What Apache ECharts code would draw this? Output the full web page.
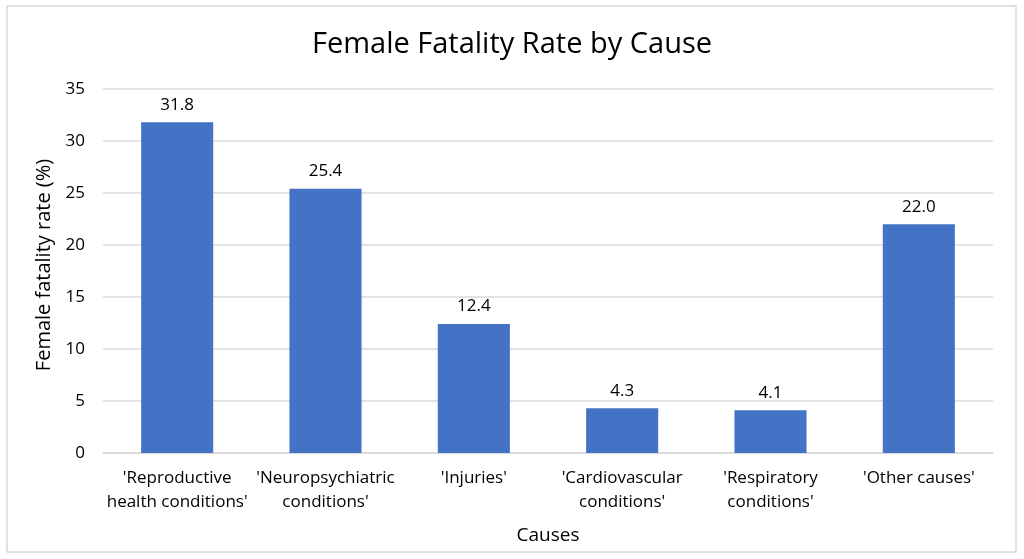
<!DOCTYPE html>
<html>
<head>
<meta charset="utf-8">
<script src="https://cdn.jsdelivr.net/npm/echarts@6/dist/echarts.min.js"></script>
<style>html,body{margin:0;padding:0;background:#fff;}#c{width:1024px;height:559px;}</style>
</head>
<body>
<div id="c"></div>
<script>
const categories = ["'Reproductive\nhealth conditions'", "'Neuropsychiatric\nconditions'", "'Injuries'", "'Cardiovascular\nconditions'", "'Respiratory\nconditions'", "'Other causes'"];
const values = [31.8, 25.4, 12.4, 4.3, 4.1, 22.0];
const yTicks = [0, 5, 10, 15, 20, 25, 30, 35];

const FONT = "Open Sans";
const chart = echarts.init(document.getElementById('c'));
chart.setOption({
  animation: false,
  textStyle: { fontFamily: FONT },
  graphic: [{
    type: 'rect',
    shape: { x: 7, y: 6, width: 1009, height: 546 },
    style: { fill: 'none', stroke: '#d9d9d9', lineWidth: 1.5 },
    silent: true
  }],
  title: {
    text: 'Female Fatality Rate by Cause',
    left: 'center',
    top: 25,
    textStyle: { fontFamily: FONT, fontSize: 29, fontWeight: 'normal', color: '#000' }
  },
  grid: { left: 103, right: 31, top: 89, bottom: 106, containLabel: false },
  xAxis: {
    type: 'category',
    data: categories,
    name: 'Causes',
    nameLocation: 'middle',
    nameGap: 73,
    nameTextStyle: { fontFamily: FONT, fontSize: 19, color: '#000' },
    axisLine: { show: true, lineStyle: { color: '#d9d9d9', width: 1.5 } },
    axisTick: { show: false },
    axisLabel: { fontFamily: FONT, fontSize: 17, color: '#000', margin: 13, lineHeight: 24, interval: 0 }
  },
  yAxis: {
    type: 'value',
    min: 0,
    max: yTicks[yTicks.length - 1],
    interval: yTicks[1] - yTicks[0],
    name: 'Female fatality rate (%)',
    nameLocation: 'middle',
    nameGap: 46,
    nameRotate: 90,
    nameTextStyle: { fontFamily: FONT, fontSize: 20, color: '#000', padding: [0, 0, 0, 12] },
    axisLine: { show: false },
    axisTick: { show: false },
    axisLabel: { fontFamily: FONT, fontSize: 17, color: '#000', margin: 18 },
    splitLine: { lineStyle: { color: '#d9d9d9', width: 1.5 } }
  },
  series: [{
    type: 'bar',
    data: values,
    barWidth: '48.6%',
    itemStyle: { color: '#4472C4' },
    label: {
      show: true,
      position: 'top',
      distance: 9,
      fontFamily: FONT,
      fontSize: 17,
      color: '#000',
      formatter: p => p.value.toFixed(1)
    }
  }]
});
</script>
</body>
</html>
